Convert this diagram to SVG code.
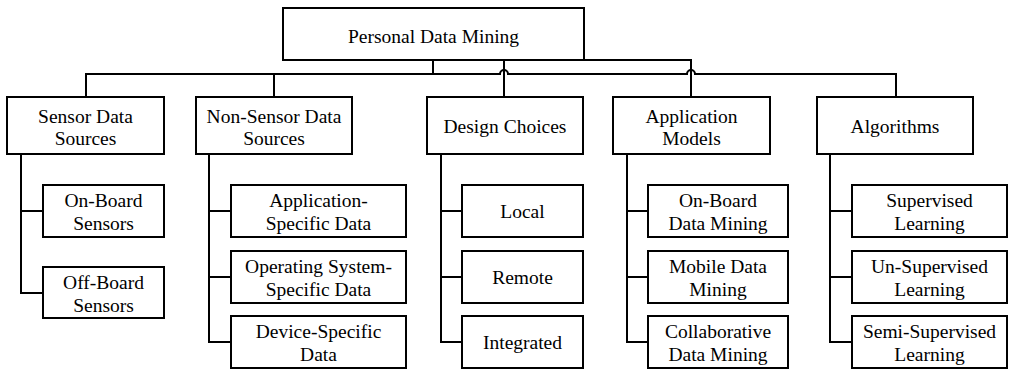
<svg xmlns="http://www.w3.org/2000/svg" width="1009" height="369" viewBox="0 0 1009 369">
<style>
.box{fill:#fff;stroke:#000;stroke-width:2}
.ln{fill:none;stroke:#000;stroke-width:2}
text{font-family:"Liberation Serif","Times New Roman",serif;font-size:19.5px;fill:#000;text-anchor:middle}
</style>
<rect width="1009" height="369" fill="#fff"/>
<g id="connectors" class="ln">
<path d="M433 60V74"/>
<path d="M86 97V74H500A4 4 0 0 1 508 74H687A4 4 0 0 1 695 74H896V97"/>
<path d="M274 74V97"/>
<path d="M504 60V97"/>
<path d="M584 60H691V97"/>
<path d="M21 154V293H43M21 211H43"/>
<path d="M209 154V342H231M209 211H231M209 277H231"/>
<path d="M441 154V342H462M441 211H462M441 277H462"/>
<path d="M627 154V342H648M627 211H648M627 277H648"/>
<path d="M830 154V342H852M830 211H852M830 277H852"/>
</g>
<g id="root"><rect class="box" x="283" y="8" width="301" height="52"/><text x="433.5" y="43">Personal Data Mining</text></g>
<g id="sensor"><rect class="box" x="7" y="97" width="157" height="57"/><text x="85.5" y="123">Sensor Data</text><text x="85.5" y="145">Sources</text></g>
<g id="nonsensor"><rect class="box" x="196" y="97" width="156" height="57"/><text x="274" y="123">Non-Sensor Data</text><text x="274" y="145">Sources</text></g>
<g id="design"><rect class="box" x="427" y="97" width="156" height="57"/><text x="505" y="133">Design Choices</text></g>
<g id="appmodels"><rect class="box" x="613" y="97" width="157" height="57"/><text x="691.5" y="123">Application</text><text x="691.5" y="145">Models</text></g>
<g id="algorithms"><rect class="box" x="817" y="97" width="156" height="57"/><text x="895" y="133">Algorithms</text></g>
<g id="onboard-sensors"><rect class="box" x="43" y="185" width="121" height="52"/><text x="103.5" y="207">On-Board</text><text x="103.5" y="230">Sensors</text></g>
<g id="offboard-sensors"><rect class="box" x="43" y="267" width="121" height="51"/><text x="103.5" y="289">Off-Board</text><text x="103.5" y="312">Sensors</text></g>
<g id="app-specific"><rect class="box" x="231" y="185" width="175" height="52"/><text x="318.5" y="207">Application-</text><text x="318.5" y="230">Specific Data</text></g>
<g id="os-specific"><rect class="box" x="231" y="251" width="175" height="52"/><text x="318.5" y="273">Operating System-</text><text x="318.5" y="296">Specific Data</text></g>
<g id="device-specific"><rect class="box" x="231" y="316" width="175" height="52"/><text x="318.5" y="338">Device-Specific</text><text x="318.5" y="361">Data</text></g>
<g id="local"><rect class="box" x="462" y="185" width="121" height="52"/><text x="522.5" y="218">Local</text></g>
<g id="remote"><rect class="box" x="462" y="251" width="121" height="52"/><text x="522.5" y="284">Remote</text></g>
<g id="integrated"><rect class="box" x="462" y="316" width="121" height="52"/><text x="522.5" y="349">Integrated</text></g>
<g id="onboard-dm"><rect class="box" x="648" y="185" width="140" height="52"/><text x="718" y="207">On-Board</text><text x="718" y="230">Data Mining</text></g>
<g id="mobile-dm"><rect class="box" x="648" y="251" width="140" height="52"/><text x="718" y="273">Mobile Data</text><text x="718" y="296">Mining</text></g>
<g id="collab-dm"><rect class="box" x="648" y="316" width="140" height="52"/><text x="718" y="338">Collaborative</text><text x="718" y="361">Data Mining</text></g>
<g id="supervised"><rect class="box" x="852" y="185" width="155" height="52"/><text x="929.5" y="207">Supervised</text><text x="929.5" y="230">Learning</text></g>
<g id="unsupervised"><rect class="box" x="852" y="251" width="155" height="52"/><text x="929.5" y="273">Un-Supervised</text><text x="929.5" y="296">Learning</text></g>
<g id="semisupervised"><rect class="box" x="852" y="316" width="155" height="52"/><text x="929.5" y="338">Semi-Supervised</text><text x="929.5" y="361">Learning</text></g>
</svg>
